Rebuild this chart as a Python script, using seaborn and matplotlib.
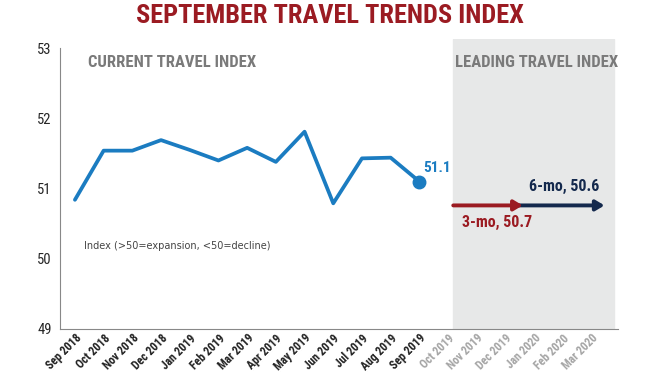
import matplotlib
matplotlib.use("Agg")
import matplotlib.pyplot as plt
import matplotlib.transforms as mtransforms
import numpy as np
import pandas as pd
import seaborn as sns
from matplotlib import font_manager

# current index, Sep 2018 - Sep 2019
current_months = ["Sep 2018", "Oct 2018", "Nov 2018", "Dec 2018", "Jan 2019", "Feb 2019",
                  "Mar 2019", "Apr 2019", "May 2019", "Jun 2019", "Jul 2019", "Aug 2019",
                  "Sep 2019"]
current_values = [50.84, 51.54, 51.54, 51.69, 51.55, 51.40, 51.58, 51.38, 51.81, 50.79,
                  51.43, 51.44, 51.1]
leading_months = ["Oct 2019", "Nov 2019", "Dec 2019", "Jan 2020", "Feb 2020", "Mar 2020"]

# leading index forecasts
lead_3mo = 50.7
lead_6mo = 50.6
arrow_level = 50.76

# pick a condensed face if there is one
installed = {f.name for f in font_manager.fontManager.ttflist}
cond = "DejaVu Sans"
for name in ["Roboto Condensed", "Barlow Semi Condensed", "Barlow Condensed", "Saira SemiCondensed",
             "Saira Condensed", "Sofia Sans Condensed"]:
    if name in installed:
        cond = name
        break

sns.set_style("white")
plt.rcParams["font.family"] = [cond, "DejaVu Sans"]

blue = "#1b7cc1"
red = "#9b1b22"
navy = "#14294d"
gray_txt = "#7a7a7a"

all_months = current_months + leading_months
df = pd.DataFrame({"idx": np.arange(len(current_months)), "value": current_values})

fig = plt.figure(figsize=(6.6, 3.75), dpi=100)
ax = fig.add_axes([60 / 660, 1 - 329 / 375, 558 / 660, 290 / 375])

ax.axvspan(13.18, 18.78, color="#e7e8e8", zorder=0)
sns.lineplot(data=df, x="idx", y="value", color=blue, linewidth=2.7, ax=ax, zorder=3)
ax.plot(df["idx"].iloc[-1], df["value"].iloc[-1], "o", color=blue, markersize=9, zorder=4)
ax.text(12.15, 51.29, f"{current_values[-1]:.1f}", color=blue, fontsize=11, fontweight="bold",
        va="center", ha="left")

# leading arrows
ax.annotate("", xy=(18.45, arrow_level), xytext=(15.3, arrow_level),
            arrowprops=dict(arrowstyle="-|>,head_length=0.5,head_width=0.3", color=navy, lw=2.8,
                            shrinkA=0, shrinkB=0), zorder=3)
ax.annotate("", xy=(15.6, arrow_level), xytext=(13.18, arrow_level),
            arrowprops=dict(arrowstyle="-|>,head_length=0.5,head_width=0.3", color=red, lw=2.8,
                            shrinkA=0, shrinkB=0), zorder=4)
ax.text(13.5, 50.52, f"3-mo, {lead_3mo}", color=red, fontsize=11.5, fontweight="bold", va="center")
ax.text(15.82, 51.03, f"6-mo, {lead_6mo}", color=navy, fontsize=11.5, fontweight="bold", va="center")

ax.text(0.32, 50.18, "Index (>50=expansion, <50=decline)", fontsize=7, color="#444444",
        family="DejaVu Sans", va="center")
ax.text(0.45, 52.8, "CURRENT TRAVEL INDEX", fontsize=12, fontweight="bold", color=gray_txt,
        va="center")
ax.text(13.25, 52.8, "LEADING TRAVEL INDEX", fontsize=12, fontweight="bold", color=gray_txt,
        va="center")

ax.set_xlim(-0.52, 18.92)
ax.set_ylim(49, 53.13)
ax.set_yticks([49, 50, 51, 52, 53])
ax.set_yticklabels(["49", "50", "51", "52", "53"], fontsize=10.5)
ax.set_xticks(np.arange(len(all_months)))
ax.set_xticklabels(all_months, rotation=45, ha="right", va="top", rotation_mode="anchor",
                   fontsize=8.5, fontweight="semibold")
shift = mtransforms.ScaledTranslation(8 / 100, -2 / 100, fig.dpi_scale_trans)
for i, lab in enumerate(ax.get_xticklabels()):
    lab.set_color("#222222" if i < len(current_months) else "#a5a5a5")
    lab.set_transform(lab.get_transform() + shift)
ax.tick_params(axis="y", length=0, pad=6)
ax.tick_params(axis="x", length=0, pad=2)
ax.set_xlabel("")
ax.set_ylabel("")

for s in ["top", "right"]:
    ax.spines[s].set_visible(False)
ax.spines["left"].set_color("#888888")
ax.spines["bottom"].set_color("#888888")
ax.spines["left"].set_bounds(49, 53)

fig.text(0.5, 1 - 16 / 375, "SEPTEMBER TRAVEL TRENDS INDEX", ha="center", va="center",
         fontsize=19, fontweight="bold", color=red)

fig.savefig("out.png", dpi=100)
